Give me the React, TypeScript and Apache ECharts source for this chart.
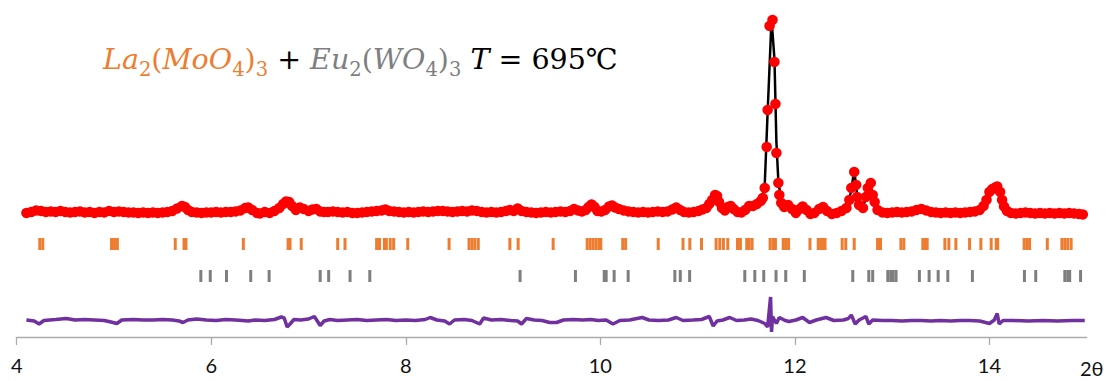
import React, { useEffect, useRef } from "react";
import * as echarts from "echarts";

// 2θ positions of the observed points
const obsTth = [
  4.10, 4.15, 4.20, 4.25, 4.30, 4.35, 4.40, 4.45, 4.50, 4.55, 4.60, 4.65, 4.70, 4.75, 4.80, 4.85, 4.90, 4.95,
  5.00, 5.05, 5.10, 5.15, 5.20, 5.25, 5.30, 5.35, 5.40, 5.45, 5.50, 5.55, 5.60, 5.65, 5.70, 5.73, 5.76, 5.80,
  5.85, 5.90, 5.95, 6.00, 6.05, 6.10, 6.15, 6.20, 6.25, 6.30, 6.35, 6.38, 6.42, 6.47, 6.50, 6.55, 6.60, 6.65,
  6.70, 6.74, 6.77, 6.80, 6.83, 6.87, 6.91, 6.95, 7.00, 7.04, 7.08, 7.12, 7.16, 7.20, 7.25, 7.30, 7.35, 7.40,
  7.45, 7.50, 7.55, 7.60, 7.65, 7.70, 7.75, 7.79, 7.83, 7.88, 7.93, 7.98, 8.03, 8.08, 8.13, 8.18, 8.23, 8.28,
  8.33, 8.38, 8.43, 8.48, 8.53, 8.58, 8.63, 8.68, 8.73, 8.78, 8.83, 8.88, 8.93, 8.98, 9.03, 9.07, 9.11, 9.15,
  9.19, 9.24, 9.29, 9.34, 9.39, 9.44, 9.49, 9.54, 9.59, 9.64, 9.69, 9.73, 9.77, 9.81, 9.85, 9.88, 9.91, 9.94,
  9.97, 10.01, 10.05, 10.09, 10.12, 10.15, 10.19, 10.24, 10.29, 10.34, 10.39, 10.44, 10.49, 10.54, 10.59,
  10.64, 10.69, 10.74, 10.78, 10.82, 10.86, 10.91, 10.96, 11.01, 11.05, 11.09, 11.12, 11.15, 11.18, 11.20,
  11.22, 11.25, 11.28, 11.31, 11.34, 11.37, 11.41, 11.45, 11.49, 11.53, 11.57, 11.61, 11.65, 11.67, 11.69,
  11.71, 11.72, 11.74, 11.77, 11.79, 11.80, 11.81, 11.83, 11.84, 11.86, 11.89, 11.93, 11.97, 12.01, 12.05,
  12.08, 12.12, 12.16, 12.20, 12.25, 12.29, 12.33, 12.38, 12.43, 12.48, 12.53, 12.56, 12.58, 12.61, 12.63,
  12.64, 12.66, 12.70, 12.73, 12.75, 12.78, 12.80, 12.82, 12.85, 12.90, 12.95, 13.00, 13.05, 13.10, 13.15,
  13.20, 13.25, 13.30, 13.35, 13.40, 13.45, 13.50, 13.55, 13.60, 13.65, 13.70, 13.75, 13.80, 13.85, 13.90,
  13.94, 13.97, 14.00, 14.03, 14.06, 14.08, 14.11, 14.13, 14.15, 14.18, 14.22, 14.27, 14.32, 14.37, 14.42,
  14.47, 14.52, 14.57, 14.62, 14.67, 14.72, 14.77, 14.82, 14.87, 14.92, 14.96,
];
// observed intensity (arbitrary units)
const obsInt = [
  1240, 1250, 1265, 1260, 1250, 1255, 1250, 1260, 1250, 1245, 1250, 1255, 1245, 1250, 1240, 1250, 1245, 1260,
  1250, 1255, 1250, 1245, 1245, 1240, 1245, 1240, 1245, 1240, 1245, 1250, 1260, 1285, 1310, 1300, 1270, 1250,
  1245, 1240, 1245, 1245, 1250, 1245, 1250, 1250, 1255, 1265, 1290, 1295, 1270, 1240, 1235, 1250, 1240, 1260,
  1290, 1330, 1355, 1350, 1310, 1270, 1295, 1280, 1260, 1275, 1280, 1255, 1250, 1250, 1255, 1250, 1245, 1250,
  1240, 1240, 1245, 1250, 1255, 1260, 1265, 1275, 1260, 1255, 1250, 1245, 1250, 1245, 1250, 1255, 1250, 1255,
  1260, 1260, 1255, 1250, 1255, 1260, 1255, 1265, 1260, 1250, 1245, 1250, 1245, 1250, 1260, 1270, 1260, 1285,
  1260, 1250, 1245, 1240, 1245, 1250, 1245, 1250, 1255, 1250, 1260, 1280, 1265, 1255, 1270, 1300, 1325, 1300,
  1260, 1255, 1270, 1305, 1315, 1295, 1280, 1265, 1255, 1250, 1245, 1250, 1245, 1250, 1255,
  1250, 1255, 1275, 1295, 1270, 1250, 1245, 1250, 1260, 1275, 1290, 1330, 1370, 1420, 1410,
  1350, 1290, 1265, 1300, 1310, 1280, 1250, 1245, 1270, 1310, 1310, 1330, 1360, 1390, 1490,
  1900, 2270, 3110, 3170, 2750, 2330, 1840, 1540, 1420, 1340, 1300, 1320, 1280, 1240, 1280,
  1305, 1270, 1230, 1240, 1280, 1300, 1260, 1230, 1240, 1260, 1290, 1370, 1490, 1650, 1520,
  1400, 1320, 1290, 1400, 1490, 1540, 1420, 1350, 1270, 1245, 1240, 1245, 1250, 1245, 1250,
  1255, 1270, 1280, 1265, 1250, 1245, 1240, 1245, 1240, 1245, 1240, 1245, 1250, 1255, 1270,
  1310, 1370, 1450, 1480, 1495, 1505, 1450, 1370, 1305, 1260, 1240, 1235, 1240, 1245, 1240,
  1235, 1240, 1235, 1240, 1235, 1240, 1235, 1240, 1235, 1230, 1225,
];

// calculated profile
const calcTth = [
  4.10, 4.50, 5.00, 5.50, 5.62, 5.70, 5.78, 5.90, 6.30, 6.38, 6.46, 6.65, 6.72, 6.78, 6.84, 6.90, 6.96, 7.05,
  7.14, 7.50, 7.79, 7.90, 8.50, 9.00, 9.07, 9.15, 9.22, 9.50, 9.73, 9.80, 9.91, 9.97, 10.05, 10.12, 10.20,
  10.30, 10.60, 10.78, 10.86, 11.00, 11.10, 11.19, 11.24, 11.29, 11.34, 11.40, 11.46, 11.53, 11.60, 11.66,
  11.69, 11.72, 11.76, 11.79, 11.81, 11.83, 11.86, 11.93, 12.01, 12.08, 12.16, 12.29, 12.38, 12.48, 12.54,
  12.58, 12.61, 12.64, 12.69, 12.73, 12.77, 12.80, 12.85, 12.95, 13.30, 13.45, 13.90, 13.97, 14.02, 14.07,
  14.11, 14.15, 14.20, 14.96,
];
const calcInt = [
  1245, 1250, 1250, 1245, 1255, 1300, 1260, 1245, 1255, 1290, 1245, 1255, 1290, 1345, 1300, 1285, 1275, 1275,
  1255, 1245, 1270, 1255, 1255, 1255, 1265, 1280, 1255, 1245, 1275, 1260, 1320, 1265, 1270, 1310, 1280,
  1255, 1250, 1290, 1255, 1260, 1300, 1410, 1340, 1275, 1305, 1255, 1250, 1305, 1320, 1370,
  1520, 2250, 3180, 2780, 1950, 1560, 1360, 1315, 1245, 1300, 1235, 1295, 1235, 1255, 1300,
  1470, 1670, 1420, 1290, 1380, 1550, 1430, 1275, 1240, 1275, 1245, 1265, 1360, 1480, 1500,
  1460, 1310, 1245, 1230,
];

// difference curve (offset below the patterns)
const diffTth = [
  4.10, 4.18, 4.23, 4.28, 4.40, 4.51, 4.60, 4.70, 4.80, 4.90, 4.97, 5.03, 5.08, 5.20, 5.30, 5.40, 5.50, 5.60,
  5.67, 5.71, 5.76, 5.85, 5.95, 6.05, 6.15, 6.25, 6.32, 6.38, 6.45, 6.55, 6.65, 6.72, 6.75, 6.78, 6.81, 6.85,
  6.92, 7.00, 7.06, 7.12, 7.16, 7.22, 7.30, 7.40, 7.50, 7.60, 7.70, 7.80, 7.90, 8.00, 8.10, 8.20, 8.25, 8.32,
  8.40, 8.45, 8.50, 8.60, 8.68, 8.76, 8.80, 8.88, 8.98, 9.08, 9.15, 9.19, 9.24, 9.32, 9.40, 9.48, 9.55, 9.62,
  9.72, 9.82, 9.90, 9.98, 10.06, 10.13, 10.20, 10.30, 10.43, 10.50, 10.60, 10.70, 10.78, 10.85, 10.95, 11.04,
  11.12, 11.16, 11.20, 11.26, 11.33, 11.40, 11.48, 11.55, 11.62, 11.69, 11.72, 11.75, 11.76, 11.77, 11.81,
  11.84, 11.90, 11.94, 12.01, 12.08, 12.15, 12.22, 12.32, 12.40, 12.50, 12.55, 12.58, 12.62, 12.66, 12.73,
  12.76, 12.80, 12.90, 13.00, 13.10, 13.20, 13.30, 13.40, 13.50, 13.60, 13.70, 13.80, 13.90, 14.00, 14.05,
  14.08, 14.10, 14.14, 14.25, 14.40, 14.55, 14.70, 14.85, 14.98,
];
const diffInt = [
  170, 160, 130, 165, 175, 185, 170, 175, 170, 165, 150, 135, 170, 175, 170, 170, 175, 170,
  160, 145, 170, 180, 170, 165, 175, 170, 165, 160, 170, 165, 175, 200, 190, 100, 130, 175,
  170, 180, 205, 115, 160, 175, 165, 170, 175, 165, 170, 175, 165, 170, 165, 175, 195, 170,
  160, 130, 170, 175, 165, 130, 190, 170, 175, 165, 160, 130, 185, 170, 165, 145, 145, 170,
  175, 170, 175, 165, 170, 130, 165, 170, 195, 170, 165, 170, 195, 165, 170, 175,
  205, 110, 160, 170, 195, 165, 170, 180, 165, 135, 100, 400, 50, 205, 135,
  195, 165, 155, 170, 195, 145, 170, 195, 165, 170, 185, 220, 130, 170, 205,
  130, 170, 165, 165, 160, 165, 165, 160, 165, 160, 165, 165, 160, 135, 170,
  235, 130, 165, 165, 160, 165, 160, 165, 165,
];

// Bragg reflection positions
const laReflections = [
  4.237, 4.268, 4.975, 5.005, 5.035, 5.63, 5.72, 5.74, 6.33, 6.79, 6.81, 6.925, 7.30, 7.375, 7.70, 7.73,
  7.78, 7.80, 7.84, 7.875, 8.02, 8.445, 8.65, 8.68, 8.71, 8.745, 9.07, 9.155, 9.515, 9.865, 9.895, 9.925,
  9.955, 9.985, 10.005, 10.23, 10.26, 10.595, 10.85, 10.92, 11.04, 11.19, 11.228, 11.265, 11.31, 11.41,
  11.44, 11.505, 11.53, 11.56, 11.745, 11.775, 11.80, 11.88, 11.905, 11.935, 12.155, 12.24, 12.265, 12.29,
  12.31, 12.486, 12.523, 12.61, 12.85, 12.88, 13.09, 13.12, 13.315, 13.34, 13.36, 13.542, 13.583, 13.655,
  13.796, 13.912, 14.018, 14.07, 14.085, 14.357, 14.385, 14.413, 14.595, 14.745, 14.775, 14.805, 14.84,
];
const euReflections = [
  5.893, 5.99, 6.157, 6.406, 6.595, 7.12, 7.207, 7.427, 7.63, 9.175, 9.744, 10.04, 10.06, 10.142, 10.286,
  10.766, 10.822, 10.918, 11.485, 11.588, 11.68, 11.806, 11.906, 12.097, 12.595, 12.76, 12.80, 12.955,
  12.985, 13.01, 13.04, 13.28, 13.38, 13.473, 13.572, 13.825, 14.36, 14.476, 14.775, 14.805, 14.825, 14.937,
];
const LA_ROW = 930;
const EU_ROW = 610;
const xTickValues = [4, 6, 8, 10, 12, 14];

const ORANGE = "#ED7D31";
const GRAY = "#7F7F7F";

export default function App() {
  const ref = useRef<HTMLDivElement>(null);
  useEffect(() => {
    if (!ref.current) return;
    const chart = echarts.init(ref.current, undefined, { renderer: "svg" });
    const obsData = obsTth.map((t, i) => [t, obsInt[i]]);
    const calcData = calcTth.map((t, i) => [t, calcInt[i]]);
    const diffData = diffTth.map((t, i) => [t, diffInt[i]]);
    const laData = laReflections.map((t) => [t, LA_ROW]);
    const euData = euReflections.map((t) => [t, EU_ROW]);
    const serif = "'DejaVu Serif', serif";
    const main = { fontSize: 28.5, fontFamily: serif, lineHeight: 38 };
    const sub = { fontSize: 19.5, fontFamily: serif, padding: [19, 0, 0, 0], verticalAlign: "top" };
    chart.setOption({
      animation: false,
      grid: { left: 16.7, right: 23.3, top: 12, bottom: 44 },
      xAxis: {
        type: "value",
        min: 4,
        max: 15,
        interval: 2,
        axisLine: { lineStyle: { color: "#ABABAB", width: 1.3 } },
        axisTick: { show: true, length: 8, customValues: xTickValues, lineStyle: { color: "#ABABAB", width: 1.3 } },
        axisLabel: {
          customValues: xTickValues,
          fontSize: 20,
          fontFamily: "Lato",
          color: "#111",
          margin: 18,
        },
        splitLine: { show: false },
      },
      yAxis: { type: "value", min: 0, max: 3250, show: false },
      series: [
        {
          type: "line",
          data: calcData,
          showSymbol: false,
          lineStyle: { color: "#000", width: 2.5 },
          z: 2,
        },
        {
          type: "scatter",
          data: obsData,
          symbolSize: 10.5,
          itemStyle: { color: "#FF0000", opacity: 1 },
          z: 3,
        },
        {
          type: "scatter",
          data: laData,
          symbol: "rect",
          symbolSize: [3, 12],
          itemStyle: { color: ORANGE, opacity: 1 },
        },
        {
          type: "scatter",
          data: euData,
          symbol: "rect",
          symbolSize: [3, 12],
          itemStyle: { color: GRAY, opacity: 1 },
        },
        {
          type: "line",
          data: diffData,
          showSymbol: false,
          lineStyle: { color: "#7030A0", width: 3.5 },
        },
      ],
      graphic: [
        {
          type: "text",
          left: 103,
          top: 45,
          style: {
            text:
              "{oi|La}{os|2}{o|(}{oi|MoO}{os|4}{o|)}{os|3}{k| + }{gi|Eu}{gs|2}{g|(}{gi|WO}{gs|4}{g|)}{gs|3}{k| }{ki|T}{k| = 695℃}",
            rich: {
              oi: { ...main, fill: ORANGE, fontStyle: "italic" },
              o: { ...main, fill: ORANGE },
              os: { ...sub, fill: ORANGE },
              gi: { ...main, fill: GRAY, fontStyle: "italic" },
              g: { ...main, fill: GRAY },
              gs: { ...sub, fill: GRAY },
              ki: { ...main, fill: "#000", fontStyle: "italic" },
              k: { ...main, fill: "#000" },
            },
          },
        },
        {
          type: "text",
          left: 1080,
          top: 358,
          style: { text: "2θ", fontSize: 20, fontFamily: "Lato", fill: "#111" },
        },
      ],
    });
    return () => chart.dispose();
  }, []);
  return (
    <div
      ref={ref}
      style={{ position: "absolute", left: 0, top: 0, width: 1110, height: 381 }}
    />
  );
}
